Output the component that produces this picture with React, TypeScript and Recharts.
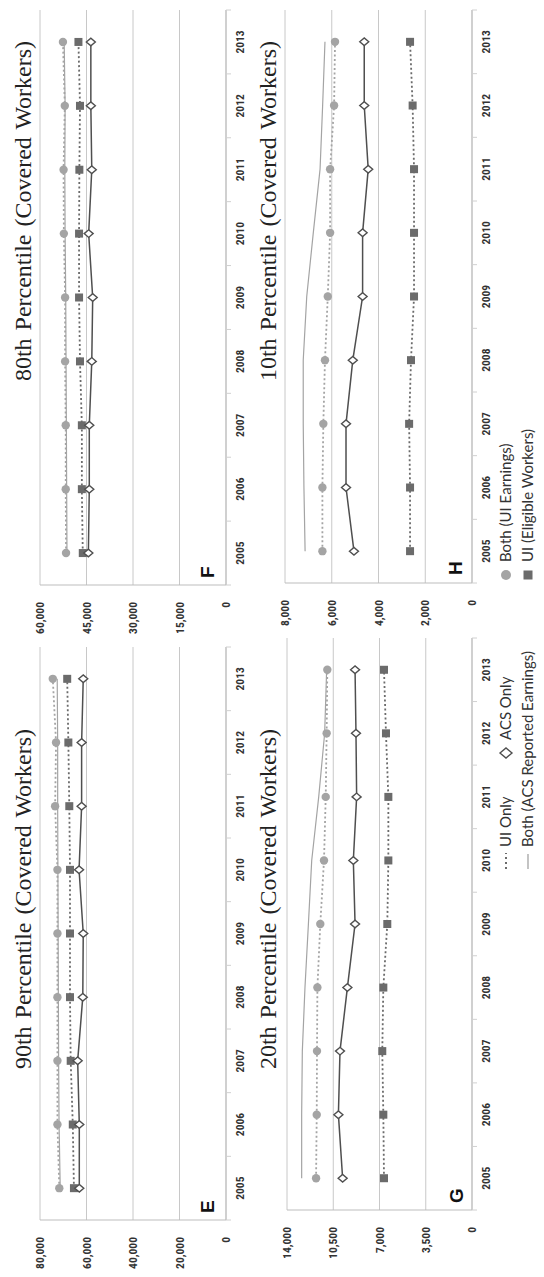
import React from "react";
import { LineChart, Line, XAxis, YAxis, CartesianGrid } from "recharts";

// Earnings by percentile, covered workers, 2005–2013 (figure is printed sideways)
const years = ["2005", "2006", "2007", "2008", "2009", "2010", "2011", "2012", "2013"];

// E: 90th percentile
const p90UiEarnings = [71700, 72500, 72500, 72500, 72500, 72500, 73500, 73100, 74500];
const p90Eligible = [65400, 65900, 66800, 67100, 67100, 67100, 67400, 67800, 68300];
const p90AcsOnly = [63100, 63100, 63800, 61600, 61400, 63200, 62100, 62100, 61400];
const p90AcsReported = [71300, 71800, 72000, 72100, 72200, 72300, 72400, 72400, 72600];
const p90Ticks = [0, 20000, 40000, 60000, 80000];

// F: 80th percentile
const p80UiEarnings = [51600, 51700, 51700, 51900, 51900, 52300, 52400, 52000, 52600];
const p80Eligible = [46200, 46500, 46500, 47100, 47400, 47400, 47300, 47100, 47600];
const p80AcsOnly = [44400, 44100, 44100, 43300, 43000, 44300, 43300, 43600, 43600];
const p80AcsReported = [51300, 51400, 51500, 51600, 51700, 51900, 52000, 51900, 52200];
const p80Ticks = [0, 15000, 30000, 45000, 60000];

// G: 20th percentile
const p20UiEarnings = [11800, 11750, 11730, 11700, 11480, 11200, 11070, 11000, 10950];
const p20Eligible = [6660, 6710, 6790, 6710, 6410, 6330, 6330, 6510, 6660];
const p20AcsOnly = [9790, 10110, 9990, 9430, 8850, 8980, 8730, 8780, 8850];
const p20AcsReported = [12890, 12890, 12840, 12640, 12380, 12130, 11600, 11150, 11000];
const p20Ticks = [0, 3500, 7000, 10500, 14000];

// H: 10th percentile
const p10UiEarnings = [6400, 6400, 6360, 6290, 6170, 6070, 6070, 5900, 5860];
const p10Eligible = [2650, 2650, 2690, 2610, 2480, 2480, 2480, 2540, 2650];
const p10AcsOnly = [5050, 5390, 5390, 5100, 4680, 4680, 4440, 4610, 4610];
const p10AcsReported = [7140, 7190, 7220, 7220, 7070, 6790, 6500, 6390, 6290];
const p10Ticks = [0, 2000, 4000, 6000, 8000];

const legendNames = [
  "UI Only",
  "ACS Only",
  "Both (ACS Reported Earnings)",
  "Both (UI Earnings)",
  "UI (Eligible Workers)",
];

const LIGHT = "#a4a4a4";
const DARK = "#6b6b6b";
const ACS = "#4f4f4f";
const GRID = "#c8c8c8";
const TICK_FONT = "'Liberation Sans Narrow', 'Roboto Condensed', Roboto, sans-serif";

const build = (ui: number[], elig: number[], acs: number[], rep: number[]) =>
  years.map((year, i) => ({ year, ui: ui[i], elig: elig[i], acs: acs[i], rep: rep[i] }));

const fmt = (v: number) => v.toLocaleString("en-US");

const Square = (p: any) => (
  <rect key={p.key} x={p.cx - 4} y={p.cy - 4} width={8} height={8} fill={DARK} />
);
const Diamond = (p: any) => (
  <path
    key={p.key}
    d={`M${p.cx},${p.cy - 4.5}L${p.cx + 3.8},${p.cy}L${p.cx},${p.cy + 4.5}L${p.cx - 3.8},${p.cy}Z`}
    fill="#fff"
    stroke={ACS}
    strokeWidth={1.4}
  />
);

const YearTick = (p: any) => {
  const { x, y, payload, index, half, count } = p;
  return (
    <g>
      <line x1={x - half} y1={y} x2={x - half} y2={y + 5} stroke="#d0d0d0" />
      {index === count - 1 && <line x1={x + half} y1={y} x2={x + half} y2={y + 5} stroke="#d0d0d0" />}
      <text
        x={x}
        y={y + 18}
        textAnchor="middle"
        fontSize={11.5}
        fontWeight={700}
        fontFamily={TICK_FONT}
        fill="#333"
      >
        {payload.value}
      </text>
    </g>
  );
};

type PanelProps = {
  data: any[];
  ticks: number[];
  left: number;
  top: number;
  width: number;
  height: number;
  yWidth: number;
  mTop: number;
  mRight: number;
  mBottom: number;
};

function Panel({ data, ticks, left, top, width, height, yWidth, mTop, mRight, mBottom }: PanelProps) {
  const half = (width - yWidth - mRight) / years.length / 2;
  return (
    <div style={{ position: "absolute", left, top }}>
      <LineChart
        width={width}
        height={height}
        data={data}
        margin={{ top: mTop, right: mRight, bottom: mBottom, left: 0 }}
      >
        <CartesianGrid vertical={false} stroke={GRID} />
        <XAxis
          dataKey="year"
          interval={0}
          height={24}
          tickSize={0}
          tickMargin={0}
          tickLine={false}
          axisLine={{ stroke: "#bdbdbd" }}
          padding={{ left: half, right: half }}
          tick={(t: any) => <YearTick {...t} half={half} count={years.length} />}
        />
        <YAxis
          width={yWidth}
          domain={[ticks[0], ticks[ticks.length - 1]]}
          ticks={ticks}
          tickFormatter={fmt}
          tickLine={false}
          tickMargin={11}
          axisLine={{ stroke: "#bdbdbd" }}
          tick={{ fontSize: 11.5, fontWeight: 700, fill: "#333", fontFamily: TICK_FONT }}
        />
        <Line
          dataKey="rep"
          stroke={LIGHT}
          strokeWidth={1.2}
          dot={false}
          activeDot={false}
          isAnimationActive={false}
        />
        <Line
          dataKey="ui"
          stroke={LIGHT}
          strokeWidth={1.8}
          strokeDasharray="2 2.5"
          dot={{ r: 4.2, fill: LIGHT, stroke: "none" }}
          activeDot={false}
          isAnimationActive={false}
        />
        <Line
          dataKey="elig"
          stroke={DARK}
          strokeWidth={1.8}
          strokeDasharray="2 2.5"
          dot={Square}
          activeDot={false}
          isAnimationActive={false}
        />
        <Line
          dataKey="acs"
          stroke={ACS}
          strokeWidth={1.5}
          dot={Diamond}
          activeDot={false}
          isAnimationActive={false}
        />
      </LineChart>
    </div>
  );
}

const titleStyle = {
  fontFamily: "'Liberation Serif', 'DejaVu Serif', serif",
  fontSize: 24,
  fill: "#222",
  wordSpacing: 2,
} as const;
const letterStyle = { fontFamily: "'Liberation Sans', Arial, sans-serif", fontSize: 19, fontWeight: 700, fill: "#111" } as const;
const legendText = { fontFamily: "Lato, 'Open Sans', sans-serif", fontSize: 15, fill: "#333" } as const;

export default function App() {
  return (
    <div style={{ position: "absolute", left: 0, top: 0, width: 544, height: 1277, overflow: "hidden", background: "#fff" }}>
      <div
        style={{
          position: "absolute",
          left: 0,
          top: 0,
          width: 1277,
          height: 544,
          transformOrigin: "0 0",
          transform: "translateY(1277px) rotate(-90deg)",
        }}
      >
        <Panel data={build(p90UiEarnings, p90Eligible, p90AcsOnly, p90AcsReported)} ticks={p90Ticks}
          left={0} top={0} width={640} height={260} yWidth={57} mTop={40} mRight={10} mBottom={10} />
        <Panel data={build(p80UiEarnings, p80Eligible, p80AcsOnly, p80AcsReported)} ticks={p80Ticks}
          left={640} top={0} width={637} height={260} yWidth={52} mTop={40} mRight={10} mBottom={10} />
        <Panel data={build(p20UiEarnings, p20Eligible, p20AcsOnly, p20AcsReported)} ticks={p20Ticks}
          left={0} top={260} width={640} height={260} yWidth={67} mTop={27} mRight={1} mBottom={24} />
        <Panel data={build(p10UiEarnings, p10Eligible, p10AcsOnly, p10AcsReported)} ticks={p10Ticks}
          left={640} top={260} width={637} height={260} yWidth={54} mTop={25} mRight={10} mBottom={24} />

        <svg width={1277} height={544} style={{ position: "absolute", left: 0, top: 0, pointerEvents: "none" }}>
          <text x={378} y={31} textAnchor="middle" style={titleStyle}>90th Percentile (Covered Workers)</text>
          <text x={1066} y={31} textAnchor="middle" style={titleStyle}>80th Percentile (Covered Workers)</text>
          <text x={378} y={276} textAnchor="middle" style={titleStyle}>20th Percentile (Covered Workers)</text>
          <text x={1066} y={276} textAnchor="middle" style={titleStyle}>10th Percentile (Covered Workers)</text>

          <text x={64} y={214} style={letterStyle}>E</text>
          <text x={699} y={214} style={letterStyle}>F</text>
          <text x={74} y={463} style={letterStyle}>G</text>
          <text x={702} y={462} style={letterStyle}>H</text>

          {/* legend */}
          <line x1={408} y1={506} x2={424} y2={506} stroke={DARK} strokeWidth={2} strokeDasharray="2 3" />
          <text x={430} y={511} style={legendText}>{legendNames[0]}</text>
          <path d="M524,500L529,506L524,512L519,506Z" fill="#fff" stroke={ACS} strokeWidth={1.4} />
          <text x={537} y={511} style={legendText}>{legendNames[1]}</text>
          <line x1={408} y1={528} x2={423} y2={528} stroke={LIGHT} strokeWidth={1.3} />
          <text x={430} y={533} style={legendText}>{legendNames[2]}</text>
          <circle cx={702} cy={506} r={5} fill={LIGHT} />
          <text x={715} y={511} style={legendText}>{legendNames[3]}</text>
          <rect x={697.5} y={523.5} width={9} height={9} fill={DARK} />
          <text x={715} y={533} style={legendText}>{legendNames[4]}</text>
        </svg>
      </div>
    </div>
  );
}
